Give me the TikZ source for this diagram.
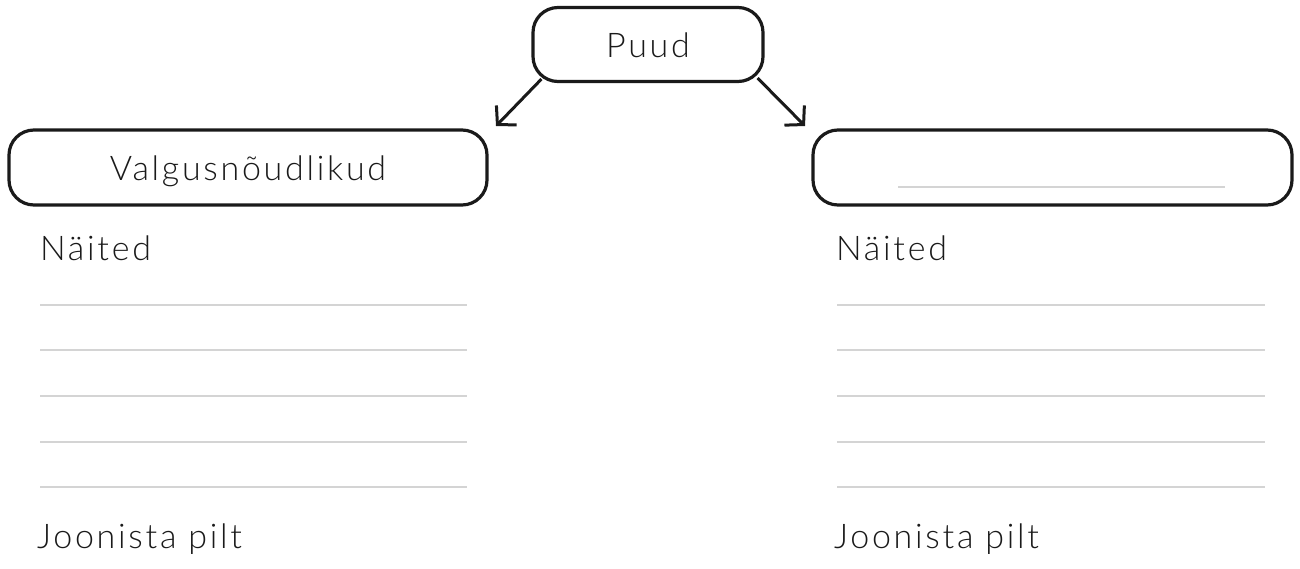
\documentclass[tikz,border=0pt]{standalone}
\usepackage{fontspec}
\setmainfont{Lato Light}[LetterSpace=8]
\usetikzlibrary{arrows.meta}
\definecolor{rulegray}{HTML}{D4D4D4}
\definecolor{ink}{HTML}{1A1A1A}
\tikzset{
  roundbox/.style={draw=ink, line width=3.2pt, rounded corners=25pt, rectangle,
    inner sep=0pt, text height=25pt, text depth=0pt, align=center, text=ink},
  lbl/.style={anchor=base west, inner sep=0pt, text=ink},
  arr/.style={draw=ink, line width=3pt, -{Straight Barb[length=13pt, width=28pt, line width=3pt]}},
  rule/.style={draw=rulegray, line width=2.2pt},
}
\begin{document}
\begin{tikzpicture}[x=1pt, y=-1pt, font=\fontsize{34}{40}\selectfont]
\useasboundingbox (0,0) rectangle (1300,568);
% top node
\node[roundbox, minimum width=230pt, minimum height=74pt] (puud) at (648,44.5) {Puud};
% category boxes
\node[roundbox, minimum width=478pt, minimum height=75pt] (valg) at (248,167.5) {Valgusnõudlikud};
\node[roundbox, minimum width=479pt, minimum height=75pt] (other) at (1052.5,167.5) {};
\draw[rule] (898,187) -- (1225,187);
% arrow ends
\coordinate (la) at (496,126);
\coordinate (ra) at (805,126);
\draw[arr] ([shift={(10,-4)}]puud.south west) -- (la);
\draw[arr] ([shift={(-7,-5)}]puud.south east) -- (ra);
% labels
\node[lbl] (n1) at (40,260) {Näited};
\node[lbl] (n2) at (836,260) {Näited};
\node[lbl] (j1) at (37,548) {Joonista pilt};
\node[lbl] (j2) at (834,548) {Joonista pilt};
% writing lines
\foreach \y in {305,350,396,442,487} {
  \draw[rule] (40,\y) -- (467,\y);
  \draw[rule] (837,\y) -- (1265,\y);
}
\end{tikzpicture}
\end{document}
